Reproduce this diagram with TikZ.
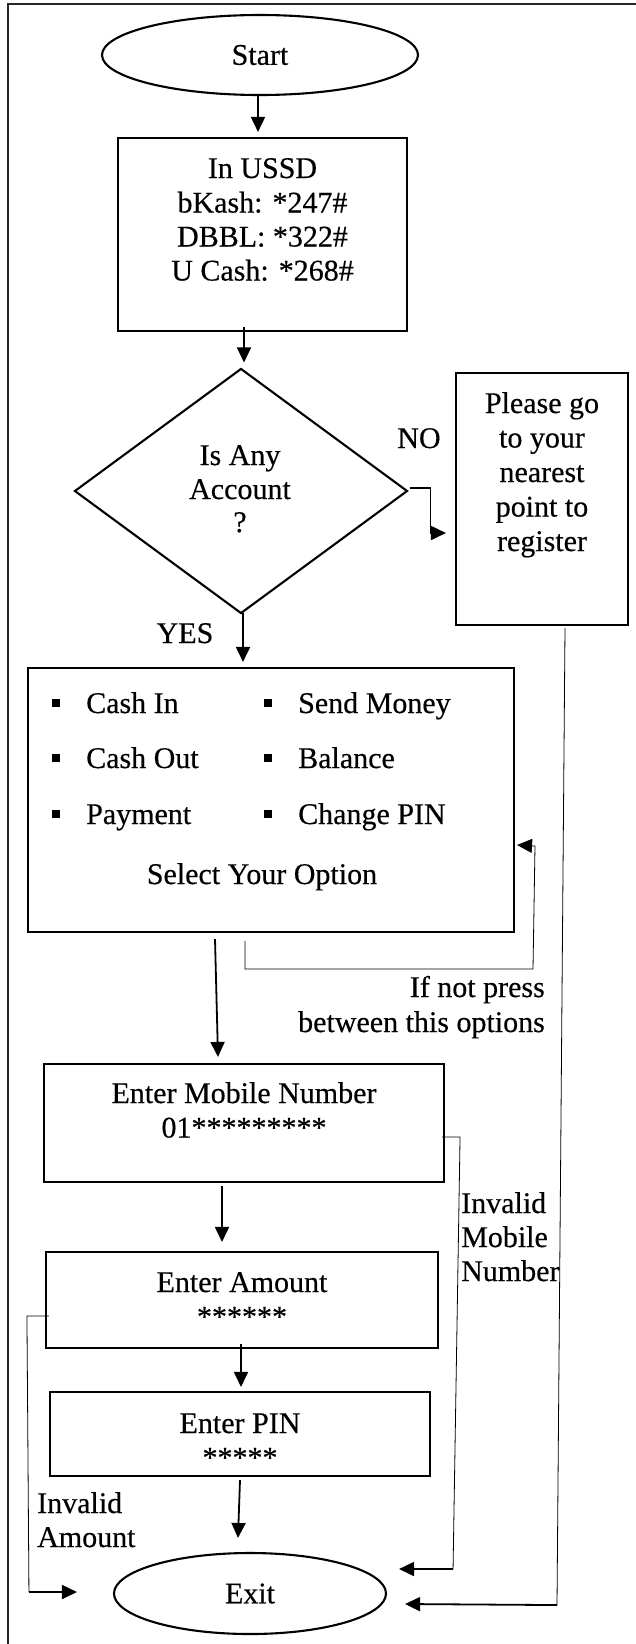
\documentclass[tikz,border=0pt]{standalone}
\usepackage{fontspec}
\setmainfont[FakeBold=0.4]{Liberation Serif}
\usetikzlibrary{shapes.geometric, arrows.meta, calc}

\begin{document}
\begin{tikzpicture}[x=1pt, y=-1pt,
  box/.style={draw, line width=2.1pt, inner sep=0pt},
  term/.style={draw, ellipse, line width=2.1pt, inner sep=0pt, font=\fontsize{30}{34.5}\selectfont},
  txt/.style={inner sep=0pt, anchor=base, font=\fontsize{30}{34.5}\selectfont},
  ltxt/.style={txt, anchor=base west},
  rtxt/.style={txt, anchor=base east},
  arr/.style={line width=1.8pt, -{Triangle[length=15pt,width=14pt]}},
  thinline/.style={line width=0.8pt},
  bul/.style={fill, minimum width=8pt, minimum height=8pt, inner sep=0pt},
  frameline/.style={line width=1.3pt, black!85}]

\useasboundingbox (0,0) rectangle (635,1644);
\draw[frameline] (8,1650) -- (8,4) -- (640,4);

% shapes
\node[term, minimum width=316pt, minimum height=80pt] (start) at (260,55) {Start};
\node[box, minimum width=289pt, minimum height=193pt] (ussd) at (262.5,234.5) {};
\node[draw, diamond, line width=2.1pt, inner sep=0pt, minimum width=333pt, minimum height=245pt] (dec) at (241,491) {};
\node[box, minimum width=172pt, minimum height=252pt] (please) at (542,499) {};
\node[box, minimum width=486pt, minimum height=264pt] (opt) at (271,800) {};
\node[box, minimum width=400pt, minimum height=118pt] (mob) at (244,1123) {};
\node[box, minimum width=392pt, minimum height=96pt] (amt) at (242,1300) {};
\node[box, minimum width=380pt, minimum height=84pt] (pin) at (240,1434) {};
\node[term, minimum width=272pt, minimum height=81pt] (exit) at (250,1593.5) {Exit};

% texts
\node[txt] (u1) at (262.5,178) {In USSD};
\node[txt] (u2) at (262.5,212.5) {bKash: *247\#};
\node[txt] (u3) at (262.5,246.5) {DBBL: *322\#};
\node[txt] (u4) at (262.5,280.5) {U Cash: *268\#};

\node[txt] (d1) at (240,465) {Is Any};
\node[txt] (d2) at (240,499) {Account};
\node[txt] (d3) at (240,532) {?};

\node[txt] (p1) at (542,413) {Please go};
\node[txt] (p2) at (542,447.5) {to your};
\node[txt] (p3) at (542,482) {nearest};
\node[txt] (p4) at (542,516.5) {point to};
\node[txt] (p5) at (542,551) {register};

\node[txt] (no) at (419,448) {NO};
\node[txt] (yes) at (185,643) {YES};

\node[bul] (b1) at (56,703) {};
\node[bul] (b2) at (56,758) {};
\node[bul] (b3) at (56,814) {};
\node[bul] (b4) at (268,703) {};
\node[bul] (b5) at (268,758) {};
\node[bul] (b6) at (268,814) {};
\node[ltxt] (o1) at (86,713) {Cash In};
\node[ltxt] (o2) at (86,768) {Cash Out};
\node[ltxt] (o3) at (86,824) {Payment};
\node[ltxt] (o4) at (298,713) {Send Money};
\node[ltxt] (o5) at (298,768) {Balance};
\node[ltxt] (o6) at (298,824) {Change PIN};
\node[txt] (sel) at (262,884) {Select Your Option};

\node[rtxt] (n1) at (545,997) {If not press};
\node[rtxt] (n2) at (545,1032) {between this options};

\node[txt] (m1) at (244,1103) {Enter Mobile Number};
\node[txt] (m2) at (244,1137.5) {01*********};

\node[ltxt] (im1) at (461,1213) {Invalid};
\node[ltxt] (im2) at (461,1247) {Mobile};
\node[ltxt] (im3) at (461,1281) {Number};

\node[txt] (a1) at (242,1292) {Enter Amount};
\node[txt] (a2) at (242,1326.5) {******};

\node[txt] (pn1) at (240,1433) {Enter PIN};
\node[txt] (pn2) at (240,1467.5) {*****};

\node[ltxt] (ia1) at (37,1513) {Invalid};
\node[ltxt] (ia2) at (37,1547) {Amount};

% connectors
\draw[arr] ($(start.south)+(-2,0)$) -- ($(ussd.north)+(-4.5,-5)$);
\draw[arr] ($(ussd.south)+(-18.5,-5)$) -- ($(dec.north)+(3,-5)$);
\draw[arr] ($(dec.east)+(1,-3)$) -- ++(21,0) -- ++(0,45) -- ($(please.west)+(-9,34)$);
\draw[arr] ($(dec.south)+(2,-2)$) -- ($(opt.north)+(-28,-5)$);

% loop back to options
\draw[thinline, -{Triangle[length=15pt,width=14pt]}]
  ($(opt.south)+(-26,8)$) -- ++(0,28) -- ++(288,0) -- ++(2,-123) -- ($(opt.east)+(2,45)$);

\draw[arr] ($(opt.south)+(-56,6)$) -- ($(mob.north)+(-26,-6)$);
\draw[arr] ($(mob.south)+(-22,3)$) -- ($(amt.north)+(-20,-9)$);
\draw[arr] ($(amt.south)+(-1,-5)$) -- ($(pin.north)+(1,-4)$);
\draw[arr] ($(pin.south)+(0,3)$) -- ($(exit.north)+(-12,-14)$);

% invalid mobile
\coordinate (imc) at ($(mob.east)+(8,446)$);
\draw[thinline] ($(mob.east)+(-3,14)$) -- ++(18,0) -- (imc);
\draw[arr] (imc) -- ($(exit.east)+(12,-24.5)$);

% please go -> exit
\coordinate (pgc) at ($(please.south)+(15,979)$);
\draw[thinline] ($(please.south)+(23,2)$) -- (pgc);
\draw[arr] (pgc) -- ($(exit.east)+(18,10.5)$);

% invalid amount
\coordinate (iac) at ($(amt.west)+(-16,292)$);
\draw[thinline] ($(amt.west)+(4,16)$) -- ++(-22,0) -- (iac);
\draw[arr] (iac) -- ($(exit.west)+(-36,-1.5)$);
\end{tikzpicture}
\end{document}
